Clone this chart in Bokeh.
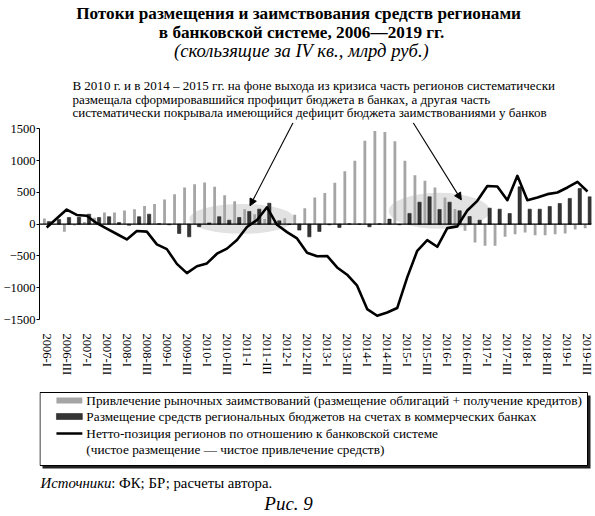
import glob
import numpy as np
from bokeh.plotting import figure
from bokeh.models import (Range1d, FixedTicker, Span, Label, Arrow, NormalHead,
                          ColumnDataSource)
from bokeh.transform import dodge
from bokeh.layouts import column
from bokeh.embed import file_html
from bokeh.resources import INLINE

try:
    from PIL import ImageFont
except Exception:  # pragma: no cover
    ImageFont = None

# ---------------- data ----------------
years = list(range(2006, 2020))
roman = ["I", "II", "III", "IV"]
quarters = [f"{y}-{r}" for y in years for r in roman][:55]   # 2006-I ... 2019-III

# Привлечение рыночных заимствований (светлые столбики), млрд руб.
borrowing = [90, -15, -120, -20, 35, 100, 185, 185, 215, 236,
             285, 318, 388, 472, 576, 629, 655, 587, 455, 360,
             236, 157, 79, 30, 92, 147, 252, 420, 490, 650,
             833, 996, 1310, 1465, 1451, 1305, 996, 770, 681, 577,
             420, 240, -105, -288, -340, -340, -199, -157, -131, -173,
             -173, -157, -147, -84, -63]

# Размещение средств бюджетов на счетах в банках (тёмные столбики)
placement = [40, 75, 105, 108, 157, 105, 118, 24, -18, 118,
             157, 8, -10, -147, -200, -40, 20, 118, 63, 105,
             200, 236, 330, 52, -5, -94, -200, -115, -10, -52,
             5, 4, -42, 6, 79, -10, 168, 346, 430, 231,
             346, 210, 120, 63, 252, 236, 168, 587, 236, 236,
             278, 325, 404, 561, 430]

# Нетто-позиция (линия)
net_position = [-52, 90, 230, 145, 131, 15, -70, -155, -240, -108,
                -118, -318, -393, -625, -770, -662, -618, -465, -385, -250,
                -45, 65, 265, -10, -125, -225, -450, -505, -500, -681,
                -796, -969, -1336, -1441, -1389, -1320, -838, -419, -251, -356,
                -63, -35, 215, 367, 600, 592, 377, 760, 377, 420,
                472, 498, 577, 665, 513]

y_ticks = [-1500, -1000, -500, 0, 500, 1000, 1500]
x_tick_idx = list(range(0, 55, 2))

# highlighted periods (ellipses): centre quarter, centre value, width (quarters), height
hl_x = [19.5, 39.2]
hl_y = [83, 209]
hl_w = [10.5, 10.1]
hl_h = [470, 566]

# arrows from the note to the highlighted periods (quarter index, value)
arrow_start = [(24.6, 1596), (36.6, 1596)]
arrow_end = [(20.3, 288), (41.4, 382)]

title_lines = ["Потоки размещения и заимствования средств регионами",
               "в банковской системе, 2006—2019 гг."]
subtitle = "(скользящие за IV кв., млрд руб.)"
note_lines = ["В 2010 г. и в 2014 – 2015 гг. на фоне выхода из кризиса часть регионов систематически",
              "размещала сформировавшийся профицит бюджета в банках, а другая часть",
              "систематически покрывала имеющийся дефицит бюджета заимствованиями у банков"]
legend_labels = ["Привлечение рыночных заимствований (размещение облигаций + получение кредитов)",
                 "Размещение средств региональных бюджетов на счетах в коммерческих банках",
                 "Нетто-позиция регионов по отношению к банковской системе",
                 "(чистое размещение — чистое привлечение средств)"]
source_head = "Источники"
source_tail = ": ФК; БР; расчеты автора."
fig_caption = "Рис. 9"

# ---------------- fonts ----------------
SERIF = "Liberation Serif"


def font_file(fname):
    for root in ("/usr/share/fonts", "/usr/local/share/fonts"):
        hits = glob.glob(f"{root}/**/{fname}", recursive=True)
        if hits:
            return hits[0]
    return None


FONT_FILES = {"normal": font_file("LiberationSerif-Regular.ttf"),
              "bold": font_file("LiberationSerif-Bold.ttf"),
              "italic": font_file("LiberationSerif-Italic.ttf")}


def text_len(text, size, style):
    path = FONT_FILES.get(style)
    if ImageFont is None or path is None:
        return None
    try:
        return ImageFont.truetype(path, 200).getlength(text) * size / 200.0
    except Exception:
        return None


def fit(text, target, style, default):
    w = text_len(text, 100, style)
    if not w:
        return default
    return round(100.0 * target / w, 2)


TITLE_FS = fit(title_lines[0], 445, "bold", 17.4)
SUB_FS = fit(subtitle, 255, "italic", 18.5)
NOTE_FS = fit(note_lines[0], 483, "normal", 12.4)
LEG_FS = fit(legend_labels[0], 496, "normal", 12.6)
FOOT_FS = min(max(fit(source_head + source_tail, 230, "normal", 13.8), 11), 16)
CAP_FS = min(max(fit(fig_caption, 53, "italic", 17), 12), 19)

W = 595
FRAME_L, FRAME_R = 37, 591          # page x of the plot frame
LIGHT = "#a5a5a5"
DARK = "#353535"
TOP_H, MID_H, BOT_H = 122, 264, 130


def blank(height):
    f = figure(width=W, height=height, x_range=Range1d(FRAME_L, FRAME_R),
               y_range=Range1d(height, 0), output_backend="svg", toolbar_location=None,
               x_axis_type=None, y_axis_type=None, min_border_left=FRAME_L,
               min_border_right=W - FRAME_R, min_border_top=0, min_border_bottom=0)
    f.outline_line_color = None
    return f


def lab(f, x, y, text, size, style="normal", align="left"):
    f.add_layout(Label(x=x, y=y, text=text, text_font=SERIF, text_font_size=f"{size}px",
                       text_font_style=style, text_align=align, text_baseline="middle",
                       text_color="black"))


# ---------------- header (page y 0..122) ----------------
p0 = blank(TOP_H)
lab(p0, 297, 13, title_lines[0], TITLE_FS, "bold", "center")
lab(p0, 300, 32, title_lines[1], TITLE_FS, "bold", "center")
lab(p0, 300, 50, subtitle, SUB_FS, "italic", "center")
for yy, txt in zip([85, 98.5, 111.5], note_lines):
    lab(p0, 70, yy, txt, NOTE_FS)

# ---------------- main chart (page y 122..386) ----------------
src = ColumnDataSource(dict(x=np.arange(len(quarters)), borrow=borrowing,
                            place=placement, net=net_position))

p1 = figure(width=W, height=MID_H, x_range=Range1d(-0.716, 54.4), y_range=Range1d(-1500, 1599),
            output_backend="svg", toolbar_location=None, min_border_left=FRAME_L,
            min_border_right=W - FRAME_R, min_border_top=0, min_border_bottom=67)
p1.outline_line_color = None
p1.grid.visible = False

p1.ellipse(x=hl_x, y=hl_y, width=hl_w, height=hl_h, fill_color="#e2e2e2", line_color=None)
p1.vbar(x=dodge("x", -0.23, range=p1.x_range), top="borrow", bottom=0, width=0.28,
        source=src, fill_color=LIGHT, line_color=None)
p1.vbar(x=dodge("x", 0.23, range=p1.x_range), top="place", bottom=0, width=0.33,
        source=src, fill_color=DARK, line_color="#111111", line_width=0.5)
p1.add_layout(Span(location=0, dimension="width", line_color="black", line_width=1.2))
p1.line("x", "net", source=src, line_color="black", line_width=2.6, line_join="round")

for (xs, ys), (xe, ye) in zip(arrow_start, arrow_end):
    p1.add_layout(Arrow(end=NormalHead(size=7, fill_color="black", line_color="black"),
                        x_start=xs, y_start=ys, x_end=xe, y_end=ye,
                        line_color="black", line_width=1.1))

ya = p1.yaxis[0]
ya.ticker = FixedTicker(ticks=y_ticks)
ya.bounds = (-1500, 1500)
ya.major_label_overrides = {t: str(t).replace("-", "−") for t in y_ticks}
ya.major_label_text_font = SERIF
ya.major_label_text_font_size = "12.5px"
ya.major_label_text_color = "black"
ya.major_tick_out = 3
ya.major_tick_in = 0
ya.minor_tick_line_color = None
ya.major_label_standoff = 1
ya.axis_line_color = "black"

xa = p1.xaxis[0]
xa.ticker = FixedTicker(ticks=x_tick_idx)
xa.major_label_overrides = {i: quarters[i] for i in x_tick_idx}
xa.major_label_orientation = "vertical"
xa.major_label_text_font = SERIF
xa.major_label_text_font_size = "12.5px"
xa.major_label_text_color = "black"
xa.axis_line_color = None
xa.major_tick_line_color = None
xa.minor_tick_line_color = None
xa.major_label_standoff = 8

# ---------------- legend & sources (page y 386..516) ----------------
p2 = blank(BOT_H)
p2.quad(left=[40], right=[590], top=[9], bottom=[82], fill_color="#222222", line_color=None)
p2.quad(left=[37.5], right=[587], top=[6], bottom=[79], fill_color="white",
        line_color="black", line_width=1)
p2.quad(left=[54], right=[80], top=[11], bottom=[17], fill_color=LIGHT, line_color=None)
p2.quad(left=[54], right=[80], top=[27], bottom=[33], fill_color=DARK, line_color="#111111",
        line_width=0.5)
p2.segment(x0=[54], y0=[47], x1=[80], y1=[47], line_color="black", line_width=2.5)
for yy, txt in zip([14, 30, 47, 63], legend_labels):
    lab(p2, 84, yy, txt, LEG_FS)

head_w = text_len(source_head, FOOT_FS, "italic") or 62
lab(p2, 38, 96, source_head, FOOT_FS, "italic")
lab(p2, 38 + head_w, 96, source_tail, FOOT_FS)
lab(p2, 287, 117, fig_caption, CAP_FS, "italic", "center")

layout = column(p0, p1, p2, spacing=0)
open("out.html", "w").write(file_html(layout, INLINE))
